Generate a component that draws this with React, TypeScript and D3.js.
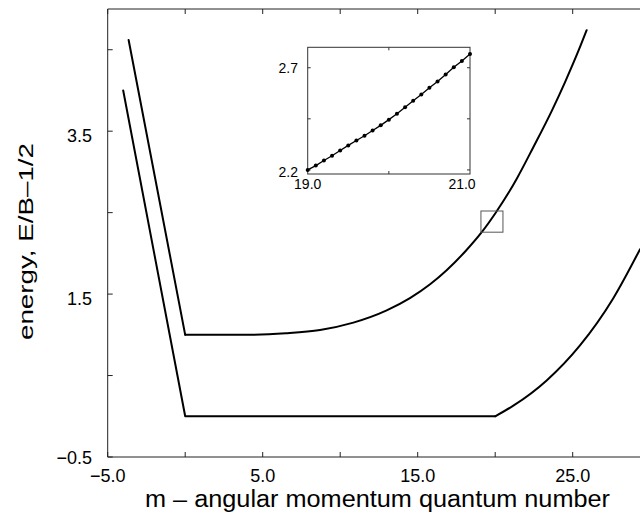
import React from 'react';
import * as d3 from 'd3';

// lowest two levels
const upperLinM = [-3.65, 0];
const upperLinE = [4.62, 1.0];
const upperM = [0, 4, 6.5, 8.7, 10.85, 13, 14.5, 15.8, 18.05, 19.13, 20, 20.85, 21.4, 22.45, 23.65, 24.5, 25.4, 25.9];
const upperE = [1.0, 1.0, 1.02, 1.06, 1.15, 1.3, 1.45, 1.62, 2.02, 2.26, 2.49, 2.74, 2.92, 3.3, 3.75, 4.1, 4.5, 4.74];

const lowerLinM = [-4, 0, 20];
const lowerLinE = [4.0, 0, 0];
const lowerM = [20, 21.17, 23.32, 25.47, 27.62, 29.34];
const lowerE = [0, 0.13, 0.44, 0.87, 1.45, 2.05];

// zoomed window
const insetM = [19.0, 19.1, 19.2, 19.3, 19.4, 19.5, 19.6, 19.7, 19.8, 19.9, 20.0, 20.1, 20.2, 20.3, 20.4, 20.5, 20.6, 20.7, 20.8, 20.9, 21.0];
const insetE = [2.2, 2.221, 2.246, 2.269, 2.295, 2.32, 2.344, 2.367, 2.393, 2.418, 2.446, 2.475, 2.507, 2.538, 2.569, 2.602, 2.633, 2.667, 2.702, 2.733, 2.767];

const xMajor = [-5, 5, 15, 25];
const xMinor = [0, 10, 20, 30];
const yMajor = [-0.5, 1.5, 3.5];
const yMinor = [0.5, 2.5, 4.5];
const insetXTicks = [19.0, 21.0];
const insetXMinor = [20.0];
const insetYTicks = [2.2, 2.7];
const insetYMinor = [2.45];
const boxM = [19.08, 20.5];
const boxE = [2.26, 2.52];

const FONT = '"Liberation Sans", Arial, Helvetica, sans-serif';

const App = () => {
  const W = 640, H = 514;
  const x = d3.scaleLinear().domain([-5, 30]).range([107.7, 650.2]);
  const y = d3.scaleLinear().domain([-0.5, 5]).range([457, 9]);
  const fmt = d3.format('.1f');

  const zip = (a: number[], b: number[]) => a.map((v, i) => [v, b[i]] as [number, number]);
  const lin = d3.line<[number, number]>().x(d => x(d[0])).y(d => y(d[1]));
  const smooth = d3.line<[number, number]>().x(d => x(d[0])).y(d => y(d[1])).curve(d3.curveMonotoneX);

  // inset scales
  const ix = d3.scaleLinear().domain([19, 21]).range([307.7, 470]);
  const iy = d3.scaleLinear().domain([2.18, 2.8]).range([174, 47.3]);
  const insetPts = zip(insetM, insetE);
  const insetLine = d3.line<[number, number]>().x(d => ix(d[0])).y(d => iy(d[1]));

  const axisColor = '#222';
  const top = y(5), bottom = y(-0.5), left = x(-5);

  return (
    <div style={{ position: 'absolute', left: 0, top: 0 }}>
      <svg width={W} height={H} style={{ display: 'block', background: '#fff' }}>
        {/* frame */}
        <g stroke={axisColor} strokeWidth={1} fill="none">
          <line x1={left} x2={W} y1={bottom} y2={bottom} />
          <line x1={left} x2={W} y1={top} y2={top} />
          <line x1={left} x2={left} y1={top} y2={bottom} />
          {xMajor.concat(xMinor).map(t => (
            <g key={'xt' + t}>
              <line x1={x(t)} x2={x(t)} y1={bottom} y2={bottom - 5} />
              <line x1={x(t)} x2={x(t)} y1={top} y2={top + 5} />
            </g>
          ))}
          {yMajor.concat(yMinor).map(t => (
            <line key={'yt' + t} x1={left} x2={left + 5} y1={y(t)} y2={y(t)} />
          ))}
        </g>

        <g fontFamily={FONT} fontSize={18} fill="#000">
          {xMajor.map(t => (
            <text key={'xl' + t} x={x(t)} y={482} textAnchor="middle">{fmt(t)}</text>
          ))}
          {yMajor.map(t => (
            <text key={'yl' + t} x={92} y={y(t) + (t === -0.5 ? 7 : 11)} textAnchor="end">{fmt(t)}</text>
          ))}
        </g>

        <text x={145} y={507} fontFamily={FONT} fontSize={23} textLength={465} lengthAdjust="spacingAndGlyphs">
          m – angular momentum quantum number
        </text>
        <text transform="translate(33,241.5) rotate(-90)" textAnchor="middle" fontFamily={FONT} fontSize={21}
          textLength={197} lengthAdjust="spacingAndGlyphs">
          energy, E/B–1/2
        </text>

        {/* curves */}
        <g fill="none" stroke="#000" strokeWidth={2} strokeLinejoin="round" strokeLinecap="round">
          <path d={lin(zip(upperLinM, upperLinE)) || ''} />
          <path d={smooth(zip(upperM, upperE)) || ''} />
          <path d={lin(zip(lowerLinM, lowerLinE)) || ''} />
          <path d={smooth(zip(lowerM, lowerE)) || ''} />
        </g>

        {/* window shown in inset */}
        <rect x={x(boxM[0])} y={y(boxE[1])} width={x(boxM[1]) - x(boxM[0])} height={y(boxE[0]) - y(boxE[1])}
          fill="none" stroke="#555" strokeWidth={1} />

        {/* inset */}
        <g>
          <rect x={ix(19)} y={iy(2.8)} width={ix(21) - ix(19)} height={iy(2.18) - iy(2.8)} fill="#fff" stroke="#333" strokeWidth={1} />
          <g stroke="#333" strokeWidth={1}>
            {insetYTicks.concat(insetYMinor).map(t => (
              <g key={'iyt' + t}>
                <line x1={ix(19)} x2={ix(19) + 3} y1={iy(t)} y2={iy(t)} />
                <line x1={ix(21)} x2={ix(21) - 3} y1={iy(t)} y2={iy(t)} />
              </g>
            ))}
            {insetXMinor.map(t => (
              <g key={'ixt' + t}>
                <line x1={ix(t)} x2={ix(t)} y1={iy(2.18)} y2={iy(2.18) - 3} />
                <line x1={ix(t)} x2={ix(t)} y1={iy(2.8)} y2={iy(2.8) + 3} />
              </g>
            ))}
          </g>
          <path d={insetLine(insetPts) || ''} fill="none" stroke="#000" strokeWidth={1.3} />
          {insetPts.map((d, i) => (
            <circle key={i} cx={ix(d[0])} cy={iy(d[1])} r={2} fill="#000" />
          ))}
          <g fontFamily={FONT} fontSize={14} fill="#000">
            {insetYTicks.map(t => (
              <text key={'iyl' + t} x={298} y={iy(t) + (t === 2.2 ? 7 : 5)} textAnchor="end">{fmt(t)}</text>
            ))}
            {insetXTicks.map(t => (
              <text key={'ixl' + t} x={ix(t) + (t === 21 ? -8 : 0)} y={189} textAnchor="middle">{fmt(t)}</text>
            ))}
          </g>
        </g>
      </svg>
    </div>
  );
};

export default App;
